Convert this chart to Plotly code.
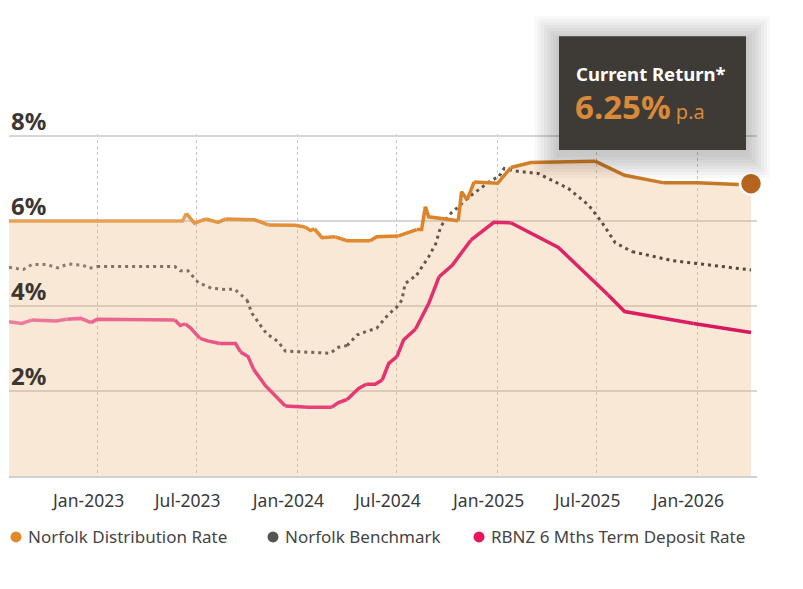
import plotly.graph_objects as go
import pandas as pd

# Norfolk Distribution Rate
dist_dates = ["2022-07-23", "2023-06-05", "2023-06-12", "2023-06-27", "2023-07-18", "2023-08-09",
              "2023-08-23", "2023-10-15", "2023-11-09", "2023-12-28", "2024-01-15", "2024-01-25",
              "2024-02-01", "2024-02-15", "2024-03-10", "2024-04-01", "2024-05-13", "2024-05-25",
              "2024-07-04", "2024-07-28", "2024-08-06", "2024-08-15", "2024-08-22", "2024-08-28",
              "2024-10-21", "2024-10-27", "2024-11-06", "2024-11-09", "2024-11-19", "2025-01-01",
              "2025-01-25", "2025-03-03", "2025-06-28", "2025-08-21", "2025-11-01", "2026-01-01",
              "2026-03-16", "2026-04-09"]
dist_vals = [6.00, 6.00, 6.18, 5.95, 6.05, 5.97,
             6.05, 6.03, 5.91, 5.90, 5.86, 5.78,
             5.82, 5.61, 5.63, 5.54, 5.54, 5.63,
             5.65, 5.75, 5.80, 5.80, 6.34, 6.10,
             6.01, 6.69, 6.51, 6.59, 6.92, 6.89,
             7.26, 7.38, 7.41, 7.08, 6.90, 6.90,
             6.86, 6.88]

# Norfolk Benchmark
bench_dates = ["2022-07-23", "2022-08-18", "2022-09-03", "2022-09-29", "2022-10-20", "2022-11-08",
               "2022-12-05", "2022-12-17", "2022-12-31", "2023-05-22", "2023-06-01", "2023-06-15",
               "2023-07-04", "2023-07-28", "2023-08-22", "2023-09-08", "2023-10-01", "2023-10-10",
               "2023-10-28", "2023-11-06", "2023-11-27", "2023-12-10", "2024-03-01", "2024-03-16",
               "2024-04-01", "2024-04-19", "2024-05-06", "2024-05-25", "2024-06-16", "2024-07-01",
               "2024-07-10", "2024-07-16", "2024-08-06", "2024-08-28", "2024-09-10", "2024-09-19",
               "2024-10-04", "2024-10-22", "2024-11-10", "2024-12-16", "2025-01-04", "2025-01-13",
               "2025-02-01", "2025-03-16", "2025-05-10", "2025-06-16", "2025-07-10", "2025-08-04",
               "2025-09-04", "2025-11-16", "2026-04-09"]
bench_vals = [4.91, 4.86, 4.98, 4.98, 4.90, 4.99,
              4.96, 4.89, 4.93, 4.93, 4.83, 4.83,
              4.55, 4.42, 4.39, 4.40, 4.14, 3.83,
              3.50, 3.35, 3.16, 2.94, 2.89, 3.03,
              3.07, 3.32, 3.40, 3.48, 3.81, 3.98,
              4.14, 4.53, 4.73, 5.16, 5.47, 5.87,
              6.14, 6.34, 6.57, 6.92, 7.06, 7.24,
              7.18, 7.12, 6.77, 6.38, 5.98, 5.49,
              5.28, 5.07, 4.85]

# RBNZ 6 Mths Term Deposit Rate
rbnz_dates = ["2022-07-23", "2022-08-15", "2022-09-03", "2022-10-17", "2022-11-05", "2022-12-01",
              "2022-12-20", "2022-12-31", "2023-05-22", "2023-06-01", "2023-06-10", "2023-06-20",
              "2023-07-07", "2023-07-21", "2023-08-12", "2023-09-10", "2023-09-19", "2023-10-03",
              "2023-10-13", "2023-11-04", "2023-12-10", "2024-01-22", "2024-03-04", "2024-03-16",
              "2024-04-01", "2024-04-22", "2024-05-06", "2024-05-22", "2024-06-04", "2024-06-16",
              "2024-07-01", "2024-07-13", "2024-08-04", "2024-08-28", "2024-09-16", "2024-10-10",
              "2024-11-13", "2024-12-25", "2025-01-25", "2025-04-22", "2025-07-22", "2025-08-21",
              "2025-12-25", "2026-04-09"]
rbnz_vals = [3.63, 3.59, 3.67, 3.65, 3.69, 3.71,
             3.61, 3.69, 3.67, 3.54, 3.58, 3.48,
             3.24, 3.18, 3.12, 3.12, 2.92, 2.81,
             2.51, 2.12, 1.65, 1.62, 1.62, 1.73,
             1.80, 2.06, 2.16, 2.16, 2.26, 2.65,
             2.81, 3.20, 3.46, 4.06, 4.69, 4.96,
             5.55, 5.97, 5.96, 5.38, 4.26, 3.87,
             3.59, 3.38]

y_ticks = [2, 4, 6, 8]
y_labels = ["2%", "4%", "6%", "8%"]

legend_names = ["Norfolk Distribution Rate", "Norfolk Benchmark", "RBNZ 6 Mths Term Deposit Rate"]
legend_colors = ["#e08a2c", "#555555", "#e8175d"]

current_label = "Current Return*"
current_value = "6.25%"

x_range = ["2022-07-23", "2026-04-20"]
y_top = 8.05

# the page body adds an 8px offset, so work in page pixels and subtract it
OFF = 8
W, H = 803 - OFF, 589 - OFF
P_LEFT, P_RIGHT, P_BOTTOM = 9, 757, 476
px_per_unit = 42.5
P_TOP = P_BOTTOM - y_top * px_per_unit
L, R = P_LEFT - OFF, (W + OFF) - P_RIGHT
T, B = P_TOP - OFF, (H + OFF) - P_BOTTOM
pw, ph = P_RIGHT - P_LEFT, P_BOTTOM - P_TOP


def px_x(x):
    return (x - P_LEFT) / pw


def px_y(y):
    return (P_BOTTOM - y) / ph


def mix(stops, f):
    f = min(max(f, 0), 1)
    seg = f * (len(stops) - 1)
    k = min(int(seg), len(stops) - 2)
    t = seg - k
    a = [int(stops[k][i:i + 2], 16) for i in (1, 3, 5)]
    b = [int(stops[k + 1][i:i + 2], 16) for i in (1, 3, 5)]
    return "rgb(%d,%d,%d)" % tuple(round(a[i] + (b[i] - a[i]) * t) for i in range(3))


t0, t1 = pd.Timestamp(x_range[0]), pd.Timestamp(x_range[1])


def gradient_line(fig, dates, vals, stops, chunk, width, dash="solid"):
    ts = pd.to_datetime(dates)
    for i in range(0, len(dates) - 1, chunk):
        j = min(i + chunk, len(dates) - 1)
        mid = ts[i] + (ts[j] - ts[i]) / 2
        col = mix(stops, (mid - t0) / (t1 - t0))
        fig.add_trace(go.Scatter(x=dates[i:j + 1], y=vals[i:j + 1], mode="lines",
                                 line=dict(color=col, width=width, dash=dash),
                                 showlegend=False, hoverinfo="skip"))


fig = go.Figure()

# area under the distribution rate
fig.add_trace(go.Scatter(x=dist_dates, y=dist_vals, mode="lines", line=dict(width=0),
                         fill="tozeroy", fillcolor="rgba(238,172,108,0.28)",
                         showlegend=False, hoverinfo="skip"))
gradient_line(fig, bench_dates, bench_vals, ["#8e7f70", "#6b5d50", "#4e4236"], 8, 3, "3px,4px")
gradient_line(fig, rbnz_dates, rbnz_vals, ["#ec7ea0", "#e5336f", "#d8145c"], 2, 3.5)
gradient_line(fig, dist_dates, dist_vals, ["#e9a867", "#e08628", "#c07628"], 2, 3.5)
# end marker
fig.add_trace(go.Scatter(x=[dist_dates[-1]], y=[dist_vals[-1]], mode="markers",
                         marker=dict(size=22, color="#b5651d", line=dict(color="white", width=2.5)),
                         showlegend=False, cliponaxis=False))

shapes = []
# tooltip shadow
box = (559, 36, 746, 150)
for i in range(1, 9):
    d = i * 3
    shapes.append(dict(type="rect", xref="paper", yref="paper", layer="above",
                       x0=px_x(box[0] - d), x1=px_x(box[2] + d),
                       y0=px_y(box[3] + d + 4), y1=px_y(box[1] - d + 4),
                       line=dict(width=0), fillcolor="rgba(0,0,0,0.028)"))
shapes.append(dict(type="rect", xref="paper", yref="paper", layer="above",
                   x0=px_x(box[0]), x1=px_x(box[2]), y0=px_y(box[3]), y1=px_y(box[1]),
                   line=dict(width=0), fillcolor="#3e3a36"))

annotations = [
    dict(text="<b>" + current_label + "</b>", xref="paper", yref="paper",
         x=px_x(574), y=px_y(73), xanchor="left", yanchor="middle", showarrow=False,
         font=dict(family="Noto Sans", size=18.5, color="white")),
    dict(text="<b>" + current_value + "</b><span style='font-size:20px'> p.a</span>",
         xref="paper", yref="paper", x=px_x(573), y=px_y(106), xanchor="left", yanchor="middle",
         showarrow=False, font=dict(family="Noto Sans", size=33, color="#d8893a")),
]

# y labels sit on top of their gridlines
for v, lab in zip(y_ticks, y_labels):
    annotations.append(dict(text="<b>" + lab + "</b>", xref="paper", yref="y", x=0, y=v,
                            xanchor="left", yanchor="bottom", showarrow=False, yshift=-3,
                            font=dict(family="Noto Sans", size=24, color="#3b3631")))

# legend row
leg_x = [16, 273, 479]
for name, col, lx in zip(legend_names, legend_colors, leg_x):
    shapes.append(dict(type="circle", xref="paper", yref="paper", xsizemode="pixel",
                       ysizemode="pixel", xanchor=px_x(lx), yanchor=px_y(537),
                       x0=-5.5, x1=5.5, y0=-5.5, y1=5.5, fillcolor=col, line=dict(width=0)))
    annotations.append(dict(text=name, xref="paper", yref="paper", x=px_x(lx + 10),
                            y=px_y(537), xanchor="left", yanchor="middle", showarrow=False,
                            font=dict(family="Noto Sans", size=17, color="#454545")))

fig.update_layout(
    width=W, height=H,
    margin=dict(l=L, r=R, t=T, b=B, pad=0),
    paper_bgcolor="white", plot_bgcolor="white",
    shapes=shapes, annotations=annotations,
    hovermode=False,
    xaxis=dict(range=x_range, type="date",
               tick0="2023-01-01", dtick="M6", tickformat="%b-%Y",
               showgrid=True, gridcolor="#c4c4c4", gridwidth=1, griddash="dot",
               showline=True, linecolor="#d0d0d0", linewidth=1.5,
               ticks="", ticklabelshift=-9, ticklabelstandoff=8, automargin=False,
               tickfont=dict(family="Noto Sans", size=17.5, color="#3a3a3a"),
               zeroline=False, fixedrange=True),
    yaxis=dict(range=[0, y_top], tickvals=y_ticks, showticklabels=False, automargin=False,
               showgrid=True, gridcolor="#d6d6d6", gridwidth=1.5,
               zeroline=False, showline=False, ticks="", fixedrange=True),
)

fig.write_html("out.html")
